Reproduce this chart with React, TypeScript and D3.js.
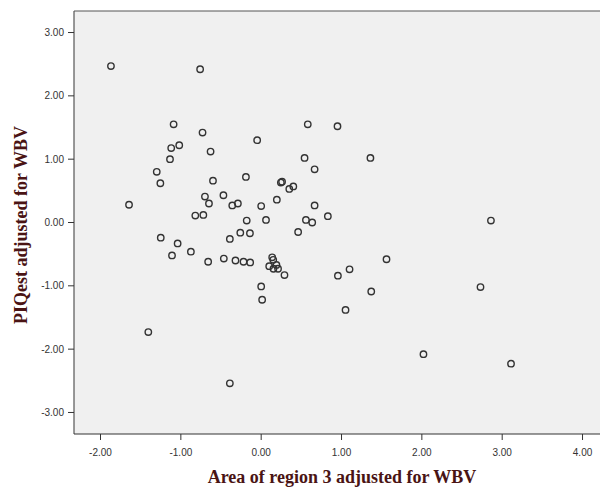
import React from "react"
import * as d3 from "d3"

// area of region 3 (x) and PIQest (y), both adjusted for WBV
const areaAdj = [
    -1.87, -0.76, -1.09, -0.73, -0.05, -1.12, -1.02, -0.63, -1.135, -1.30,
    -1.255, -0.60, -0.19, 0.245, 0.26, 0.35, 0.40, -1.645, -0.70, -0.65,
    -0.47, -0.36, -0.29, 0.00, 0.195, -0.82, -0.72, -0.18, 0.06, -1.25,
    -1.04, -0.39, -0.26, -0.14, 0.46, 0.58, 0.95, 0.54, 1.36, 0.665,
    0.665, 0.557, 0.635, 0.83, 2.86, -1.11, -0.875, -0.66, -0.465, -0.32,
    -0.22, -0.137, 0.137, 0.15, 0.10, 0.19, 0.21, 0.153, 0.29, 0.00,
    0.012, -1.405, -0.39, 0.955, 1.10, 1.56, 1.37, 1.05, 2.73, 2.02,
    3.11
]
const piqAdj = [
    2.47, 2.42, 1.55, 1.42, 1.30, 1.175, 1.22, 1.12, 1.00, 0.80,
    0.62, 0.66, 0.72, 0.63, 0.645, 0.53, 0.57, 0.28, 0.41, 0.30,
    0.43, 0.27, 0.30, 0.26, 0.36, 0.11, 0.12, 0.03, 0.04, -0.24,
    -0.33, -0.26, -0.16, -0.17, -0.15, 1.55, 1.52, 1.02, 1.02, 0.84,
    0.27, 0.04, 0.00, 0.10, 0.03, -0.52, -0.46, -0.62, -0.57, -0.60,
    -0.62, -0.63, -0.55, -0.59, -0.69, -0.67, -0.73, -0.73, -0.83, -1.01,
    -1.22, -1.73, -2.54, -0.84, -0.74, -0.58, -1.09, -1.38, -1.02, -2.08,
    -2.23
]
const xTicks = [-2, -1, 0, 1, 2, 3, 4]
const yTicks = [-3, -2, -1, 0, 1, 2, 3]

const W = 600, H = 489
const margin = {top: 11, right: -1, bottom: 55, left: 74}
const titleColor = "#4a1414"

export default function App() {
    const innerW = W - margin.left - margin.right
    const innerH = H - margin.top - margin.bottom

    const x = d3.scaleLinear().domain([-2.33, 4.23]).range([0, innerW])
    const y = d3.scaleLinear().domain([-3.34, 3.34]).range([innerH, 0])
    // SPSS style labels with a plain hyphen
    const fmt = (v: number) => d3.format(".2f")(v).replace("\u2212", "-")

    return (
        <svg width={W} height={H} style={{position: "absolute", left: 0, top: 0, background: "#fff"}}>
            <g transform={`translate(${margin.left},${margin.top})`}>
                <rect width={innerW} height={innerH} fill="#f0f0f0" />
                <line x1={0} x2={innerW} y1={0} y2={0} stroke="#555" strokeWidth={1} />
                <line x1={0} x2={0} y1={0} y2={innerH} stroke="#555" strokeWidth={1.2} />
                <line x1={0} x2={innerW} y1={innerH} y2={innerH} stroke="#333" strokeWidth={1.2} />

                {yTicks.map(t => (
                    <g key={"y" + t} transform={`translate(0,${y(t)})`}>
                        <line x1={-6} x2={0} stroke="#333" />
                        <text x={-10} dy="0.35em" textAnchor="end" fontSize={10}
                              fontFamily="Liberation Sans, Arial" fill="#333">{fmt(t)}</text>
                    </g>
                ))}
                {xTicks.map(t => (
                    <g key={"x" + t} transform={`translate(${x(t)},${innerH})`}>
                        <line y1={0} y2={6} stroke="#333" />
                        <text y={22} textAnchor="middle" fontSize={10}
                              fontFamily="Liberation Sans, Arial" fill="#333">{fmt(t)}</text>
                    </g>
                ))}

                {areaAdj.map((d, i) => (
                    <circle key={i} cx={x(d)} cy={y(piqAdj[i])} r={3.2}
                            fill="none" stroke="#333" strokeWidth={1.4} />
                ))}
            </g>

            <text x={342} y={483} textAnchor="middle"
                  fontSize={18} fontWeight="bold" fontFamily="Liberation Serif, Times New Roman"
                  fill={titleColor}>Area of region 3 adjusted for WBV</text>
            <text transform="translate(27,225) rotate(-90)" textAnchor="middle"
                  fontSize={18} fontWeight="bold" fontFamily="Liberation Serif, Times New Roman"
                  fill={titleColor}>PIQest adjusted for WBV</text>
        </svg>
    )
}
